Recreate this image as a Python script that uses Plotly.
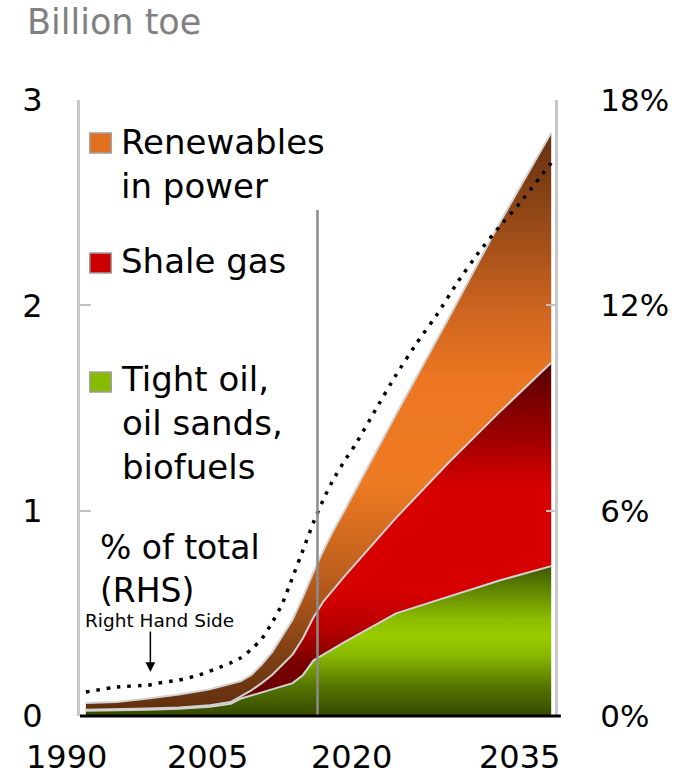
import plotly.graph_objects as go

# ---------------- data ----------------
YEARS = [1990, 1993, 1996, 1999, 2002, 2004, 2005, 2006, 2007, 2008, 2009, 2010,
         2011, 2012, 2013, 2014, 2015, 2020, 2025, 2030, 2035]
TIGHT_OIL = [0.025, 0.027, 0.030, 0.035, 0.045, 0.060, 0.085, 0.100, 0.115, 0.130,
             0.145, 0.160, 0.200, 0.270, 0.300, 0.330, 0.360, 0.500, 0.580, 0.660, 0.730]
SHALE_GAS = [0.005, 0.005, 0.006, 0.007, 0.007, 0.008, 0.010, 0.025, 0.045, 0.070,
             0.105, 0.140, 0.180, 0.210, 0.260, 0.290, 0.320, 0.465, 0.650, 0.820, 0.990]
RENEWABLES = [0.033, 0.036, 0.049, 0.063, 0.078, 0.087, 0.075, 0.075, 0.090, 0.110,
              0.140, 0.170, 0.200, 0.220, 0.250, 0.290, 0.320, 0.505, 0.700, 0.920, 1.120]

SHARE_YEARS = [1990, 1993, 1996, 1997, 1999, 2001, 2003, 2004, 2005, 2006, 2007,
               2008, 2009, 2010, 2011, 2012, 2013, 2014, 2015, 2016, 2018, 2020,
               2022, 2024, 2026, 2028, 2030, 2032, 2035]
SHARE_PCT = [0.70, 0.85, 0.90, 0.96, 1.05, 1.20, 1.43, 1.55, 1.70, 1.95, 2.25,
             2.72, 3.28, 4.06, 4.85, 5.65, 6.35, 6.95, 7.45, 7.90, 8.94, 9.97,
             10.90, 11.75, 12.70, 13.55, 14.30, 15.00, 16.16]

Y_TICKS = [0, 1, 2, 3]
Y2_TICKS = [0, 6, 12, 18]
Y2_LABELS = ["0%", "6%", "12%", "18%"]
X_LABELS = ["1990", "2005", "2020", "2035"]
LEGEND_LABELS = ["Renewables<br>in power", "Shale gas", "Tight oil,<br>oil sands,<br>biofuels"]
TODAY = 2012.4

# ---------------- layout helpers (screen pixels) ----------------
W, H = 681, 780
L, R, T, B = 80, 566, 100, 716   # plot area in pixels
PX_PER_YEAR = 10.58
X0_PX = 86


def px_year(px):
    return 1990 + (px - X0_PX) / PX_PER_YEAR


def pxp(px):
    return (px - L) / (R - L)


def pyp(py):
    return (B - py) / (B - T)


FONT = "DejaVu Sans"

fig = go.Figure()

green_cs = [[0, '#364800'], [0.2, '#557500'], [0.4, '#88b800'], [0.53, '#99cc00'],
            [0.65, '#8cbc00'], [0.8, '#6a9200'], [1, '#3e5600']]
red_cs = [[0, '#5a0000'], [0.15, '#7a0000'], [0.25, '#b80000'], [0.35, '#d60000'],
          [0.65, '#d60000'], [0.8, '#9a0000'], [1, '#550000']]
orange_cs = [[0, '#5e2e0e'], [0.1, '#7d3f14'], [0.25, '#c0601e'], [0.4, '#ee7a22'],
             [0.58, '#ec7622'], [0.7, '#cc6420'], [0.82, '#a04e18'], [1, '#643010']]

sep = dict(color='#d2d2d2', width=2)

top_g = max(TIGHT_OIL)
top_r = max(a + b for a, b in zip(TIGHT_OIL, SHALE_GAS))
top_all = max(a + b + c for a, b, c in zip(TIGHT_OIL, SHALE_GAS, RENEWABLES))

fig.add_trace(go.Scatter(x=YEARS, y=TIGHT_OIL, stackgroup='s', mode='lines', line=sep,
                         fillgradient=dict(type='vertical', colorscale=green_cs,
                                           start=0, stop=top_g),
                         showlegend=False, hoverinfo='skip'))
fig.add_trace(go.Scatter(x=YEARS, y=SHALE_GAS, stackgroup='s', mode='lines', line=sep,
                         fillgradient=dict(type='vertical', colorscale=red_cs,
                                           start=0, stop=top_r),
                         showlegend=False, hoverinfo='skip'))
fig.add_trace(go.Scatter(x=YEARS, y=RENEWABLES, stackgroup='s', mode='lines', line=sep,
                         fillgradient=dict(type='vertical', colorscale=orange_cs,
                                           start=0, stop=top_all),
                         showlegend=False, hoverinfo='skip'))

fig.add_trace(go.Scatter(x=SHARE_YEARS, y=SHARE_PCT, yaxis='y2', mode='lines',
                         line=dict(color='black', width=3.5, dash='3.5px,7px',
                                   shape='spline', smoothing=0.4),
                         showlegend=False, hoverinfo='skip'))

shapes = [
    dict(type='line', xref='x', yref='y', x0=TODAY, x1=TODAY, y0=0,
         y1=(B - 210) / ((B - T) / 3), line=dict(color='#8c8c8c', width=2.5)),
    dict(type='line', xref='paper', yref='paper', x0=0, x1=pxp(572), y0=0, y1=0,
         line=dict(color='black', width=3)),
]
leg_colors = ['#e07020', '#cc0000', '#88bb00']
leg_centers = [143, 263, 382]
for c, yc in zip(leg_colors, leg_centers):
    shapes.append(dict(type='rect', xref='paper', yref='paper',
                       x0=pxp(90), x1=pxp(112), y0=pyp(yc + 10), y1=pyp(yc - 10),
                       fillcolor=c, line=dict(color='#a0a0a0', width=1.5)))

ann = []
leg_text_y = [164, 261, 423]
for t, yc in zip(LEGEND_LABELS, leg_text_y):
    ann.append(dict(text=t, xref='paper', yref='paper', x=pxp(120), y=pyp(yc),
                    xanchor='left', yanchor='middle', align='left', showarrow=False,
                    font=dict(family=FONT, size=34, color='black')))
ann.append(dict(text='% of total<br>(RHS)', xref='paper', yref='paper', x=pxp(98),
                y=pyp(569), xanchor='left', yanchor='middle', align='left',
                showarrow=False, font=dict(family=FONT, size=33, color='black')))
ann.append(dict(text='Right Hand Side', xref='paper', yref='paper', x=pxp(83),
                y=pyp(620), xanchor='left', yanchor='middle', showarrow=False,
                font=dict(family=FONT, size=18.5, color='black')))
ann.append(dict(text='', xref='paper', yref='paper', x=pxp(152), y=pyp(672),
                ax=0, ay=-42, showarrow=True, arrowhead=2, arrowsize=1.3,
                arrowwidth=1.5, arrowcolor='black'))
ann.append(dict(text='Billion toe', xref='paper', yref='paper', x=pxp(24),
                y=pyp(22), xanchor='left', yanchor='middle', showarrow=False,
                font=dict(family=FONT, size=35, color='#808080')))
x_label_px = [66, 210, 358, 530]
for lab, px in zip(X_LABELS, x_label_px):
    ann.append(dict(text=lab, xref='paper', yref='paper', x=pxp(px), y=pyp(757),
                    xanchor='center', yanchor='middle', showarrow=False,
                    font=dict(family=FONT, size=32, color='black')))

fig.update_layout(
    width=W, height=H, autosize=False,
    margin=dict(l=L, r=W - R, t=T, b=H - B, pad=0),
    paper_bgcolor='white', plot_bgcolor='white',
    hovermode=False,
    shapes=shapes, annotations=ann,
    xaxis=dict(range=[px_year(L), px_year(R)], showgrid=False, zeroline=False,
               showticklabels=False, ticks='', showline=False),
    yaxis=dict(range=[0, 3], tickvals=Y_TICKS, showgrid=False, zeroline=False,
               ticks='inside', ticklen=11, tickcolor='#c0c0c0', tickwidth=2,
               showline=True, linecolor='#c8c8c8', linewidth=3,
               ticklabelstandoff=28,
               tickfont=dict(family=FONT, size=32, color='black')),
    yaxis2=dict(range=[0, 18], overlaying='y', side='right', tickvals=Y2_TICKS,
                ticktext=Y2_LABELS, showgrid=False, zeroline=False,
                ticks='inside', ticklen=9, tickcolor='#c0c0c0', tickwidth=2,
                showline=True, linecolor='#c8c8c8', linewidth=3,
                ticklabelstandoff=36,
                tickfont=dict(family=FONT, size=31, color='black')),
)

fig.write_html(
    "out.html",
    config={'displayModeBar': False, 'staticPlot': True},
    post_script="document.documentElement.style.overflow='hidden';"
                "document.body.style.margin='0px';document.body.style.overflow='hidden';",
)
